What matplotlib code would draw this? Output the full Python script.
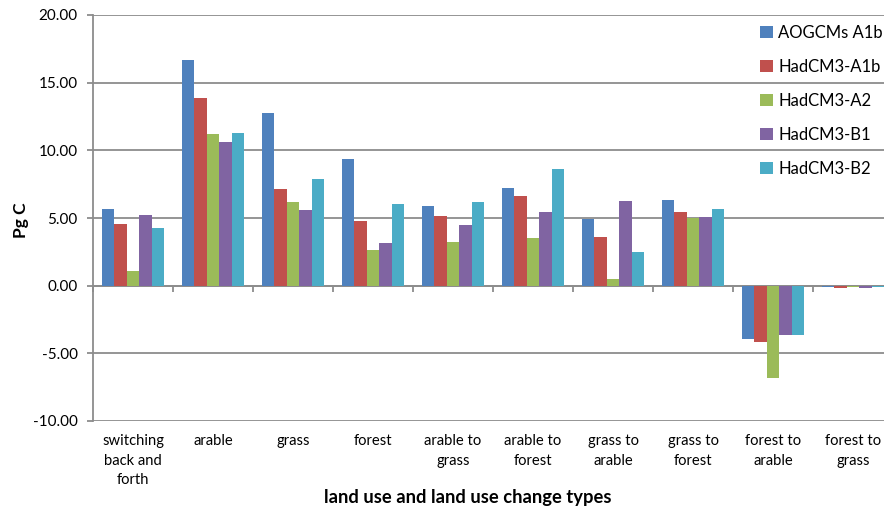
import matplotlib
matplotlib.use("Agg")
import matplotlib.pyplot as plt
import numpy as np
from matplotlib.transforms import blended_transform_factory

plt.rcParams['font.family'] = ['Lato', 'DejaVu Sans']

categories = ["switching\nback and\nforth", "arable", "grass", "forest", "arable to\ngrass",
              "arable to\nforest", "grass to\narable", "grass to\nforest", "forest to\narable",
              "forest to\ngrass"]
series_names = ["AOGCMs A1b", "HadCM3-A1b", "HadCM3-A2", "HadCM3-B1", "HadCM3-B2"]
aogcms_a1b = [5.64, 16.70, 12.77, 9.38, 5.92, 7.20, 4.94, 6.32, -3.92, -0.08]
hadcm3_a1b = [4.53, 13.85, 7.17, 4.75, 5.15, 6.60, 3.63, 5.46, -4.17, -0.14]
hadcm3_a2 = [1.11, 11.23, 6.20, 2.60, 3.25, 3.55, 0.52, 5.01, -6.80, -0.12]
hadcm3_b1 = [5.25, 10.64, 5.60, 3.15, 4.50, 5.45, 6.22, 5.11, -3.67, -0.18]
hadcm3_b2 = [4.29, 11.30, 7.90, 6.05, 6.20, 8.65, 2.47, 5.68, -3.67, -0.07]
yticks = [-10, -5, 0, 5, 10, 15, 20]
colors = ["#4F81BD", "#C0504D", "#9BBB59", "#8064A2", "#4BACC6"]

series = [aogcms_a1b, hadcm3_a1b, hadcm3_a2, hadcm3_b1, hadcm3_b2]

W, H = 884, 507
fig = plt.figure(figsize=(W / 100, H / 100), dpi=100)
left, right = 93 / W, 893 / W
bottom, top = (H - 421) / H, (H - 15) / H
ax = fig.add_axes([left, bottom, right - left, top - bottom])

x = np.arange(len(categories))
bw = 0.155
for i, (vals, c, name) in enumerate(zip(series, colors, series_names)):
    ax.bar(x + (i - 2) * bw, vals, bw, color=c, label=name, zorder=3, linewidth=0)

ax.set_xlim(-0.5, len(categories) - 0.5)
ax.set_ylim(-10, 20)
ax.set_yticks(yticks)
ax.set_yticklabels([f"{v:.2f}" for v in yticks], fontsize=11, color="#000000")
ax.yaxis.grid(True, color="#8c8c8c", linewidth=1.3, zorder=0)
ax.set_axisbelow(True)

gray = "#8c8c8c"
for s in ["top", "right"]:
    ax.spines[s].set_visible(False)
ax.spines["left"].set_color(gray)
ax.spines["left"].set_linewidth(1.3)
ax.spines["bottom"].set_position(("data", 0))
ax.spines["bottom"].set_color(gray)
ax.spines["bottom"].set_linewidth(1.3)
ax.spines["bottom"].set_zorder(2)
ax.tick_params(axis="y", length=4, width=1.3, color=gray, pad=7)
ax.set_xticks(np.arange(len(categories) + 1) - 0.5)
ax.set_xticklabels([])
ax.tick_params(axis="x", length=4, width=1.3, color=gray, direction="out")

trans = blended_transform_factory(ax.transData, ax.transAxes)
for xi, lab in zip(x, categories):
    ax.text(xi, -0.033, lab, transform=trans, ha="center", va="top",
            fontsize=10.6, linespacing=1.5)

fig.text(21 / W, 1 - 220 / H, "Pg C", rotation=90, ha="center", va="center",
         fontsize=12.5, fontweight="bold")
fig.text(468 / W, 1 - 497 / H, "land use and land use change types", ha="center",
         va="center", fontsize=13.2, fontweight="bold")

leg = fig.legend(loc="upper left", bbox_to_anchor=(760 / W, 1 - 25 / H), frameon=False,
                 fontsize=12, handlelength=0.75, handleheight=0.75, handletextpad=0.35,
                 labelspacing=1.08, borderpad=0, borderaxespad=0)

fig.savefig("out.png", dpi=100)
